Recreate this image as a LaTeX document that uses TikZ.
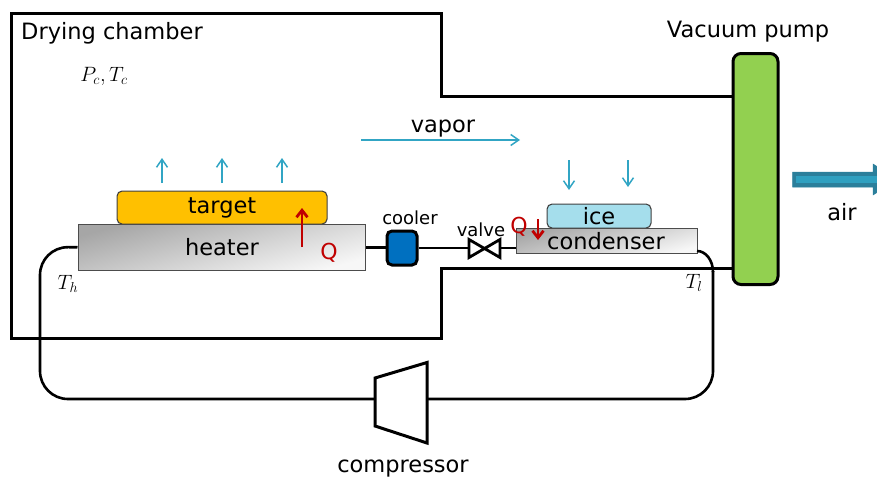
\documentclass[tikz,border=0pt]{standalone}
\usepackage{fontspec}
\setmainfont{DejaVu Sans}
\usetikzlibrary{arrows.meta,calc}
\definecolor{teal1}{HTML}{31A5C4}
\definecolor{redq}{HTML}{C00000}
\definecolor{airdark}{HTML}{2B7F9B}
\definecolor{airlight}{HTML}{2FA0C0}
\definecolor{targetfill}{HTML}{FFC000}
\definecolor{icefill}{HTML}{A5DEEC}
\definecolor{pumpfill}{HTML}{92D050}
\definecolor{coolerfill}{HTML}{0070C0}
\tikzset{
  pipe/.style={draw=black,line width=3pt},
  wire/.style={draw=black,line width=2.6pt,rounded corners=28pt},
  plain/.style={draw=black,line width=2.6pt},
  plate/.style={draw=black!75,line width=1.1pt,rounded corners=5pt,inner sep=0pt,anchor=north west},
  block/.style={draw=black!70,line width=1.5pt,inner sep=0pt,anchor=north west,shading=axis,left color=black!35,right color=black!3,shading angle=15},
  lab/.style={inner sep=0pt,font=\fontsize{22.5}{22.5}\selectfont},
  smalllab/.style={inner sep=0pt,font=\fontsize{18}{18}\selectfont},
  mathlab/.style={inner sep=0pt,font=\fontsize{21}{21}\selectfont},
  vap/.style={draw=teal1,line width=1.5pt,-{Straight Barb[length=8pt,width=11pt]}},
  heat/.style={draw=redq,line width=2.8pt,-{Straight Barb[length=7pt,width=11pt]}},
  qlab/.style={inner sep=0pt,text=redq,font=\fontsize{22}{22}\selectfont}
}
\begin{document}
\begin{tikzpicture}[x=1pt,y=-1pt]
\useasboundingbox (0,0) rectangle (877,477);
% blocks
\node[plate,fill=targetfill,minimum width=210pt,minimum height=33pt] (target) at (116.5,190.5) {};
\node[block,minimum width=287pt,minimum height=46pt] (heater) at (77.5,223.5) {};
\node[plate,fill=icefill,minimum width=104pt,minimum height=24pt] (ice) at (546.5,203.5) {};
\node[block,minimum width=181pt,minimum height=25pt] (condenser) at (515.5,227.5) {};
\node[draw=black,line width=3pt,rounded corners=8pt,fill=pumpfill,minimum width=45pt,minimum height=231pt,inner sep=0pt,anchor=north west] (pump) at (731.5,52) {};
\node[draw=black,line width=3pt,rounded corners=5pt,fill=coolerfill,minimum width=30pt,minimum height=34pt,inner sep=0pt,anchor=north west] (cooler) at (385.5,229.5) {};
% chamber
\coordinate (pumpA) at (pump.west |- 0,96);
\coordinate (pumpB) at (pump.west |- 0,268);
\draw[pipe,line join=miter] (pumpA) -- (441,96) -- (441,13) -- (11,13) -- (11,338) -- (441,338) -- (441,268) -- (pumpB);
% valve
\coordinate (valveW) at (469,248);
\coordinate (valveE) at (500,248);
\draw[black,line width=2.8pt,line join=miter] (469,239.5) -- (500,257.5) -- (500,239.5) -- (469,257.5) -- cycle;
% compressor
\coordinate (compW) at (375,399);
\coordinate (compE) at (427,399);
\draw[black,line width=3pt,line join=miter,fill=white] (375,378) -- (427,362.5) -- (427,443) -- (375,426) -- cycle;
% loop
\draw[wire] (heater.west) -- (40,247) -- (40,399) -- (compW);
\draw[wire] (compE) -- (713,399) -- (713,271);
\draw[plain] (713,272) arc[start angle=0,end angle=-90,x radius=16pt,y radius=-21pt];
\draw[plain] (heater.east) -- (cooler.west |- heater.east);
\draw[plain] (cooler.east |- valveW) -- (valveW);
\draw[plain] (valveE) -- (condenser.west |- valveE);
% air arrow
\draw[draw=airdark,fill=airdark,line width=.5pt] (792.5,172) -- (873,172) -- (873,164) -- (877,166.5) -- (877,192.5) -- (873,195) -- (873,187) -- (792.5,187) -- cycle;
\fill[airlight] (796,176) rectangle (877,183);
% vapour arrows
\draw[vap] (162,183) -- (162,158);
\draw[vap] (222,183) -- (222,158);
\draw[vap] (282,183) -- (282,158);
\draw[vap] (569,160) -- (569,190);
\draw[vap] (628,160) -- (628,187);
\draw[vap] (361,140) -- (520,140);
% labels
\node[lab] at (222,208) {target};
\node[lab] at (222,247) {heater};
\node[lab] at (599,216) {ice};
\node[lab] at (606,241) {condenser};
\node[lab] at (443,129) {vapor};
\node[lab] at (112,33) {Drying chamber};
\node[lab] at (748,32) {Vacuum pump};
\node[lab] at (842,212) {air};
\node[lab] at (403,469) {compressor};
\node[smalllab] at (410,218) {cooler};
\node[smalllab] at (481,230) {valve};
\node[mathlab] at (104,76) {$P_c,T_c$};
\node[mathlab] at (68,284) {$T_h$};
\node[mathlab] at (694,283) {$T_l$};
% heat
\draw[heat] (302,247) -- (302,208);
\draw[heat] (538,219) -- (538,240);
\node[qlab] at (329,253) {Q};
\node[qlab] at (519,227) {Q};
\end{tikzpicture}
\end{document}
